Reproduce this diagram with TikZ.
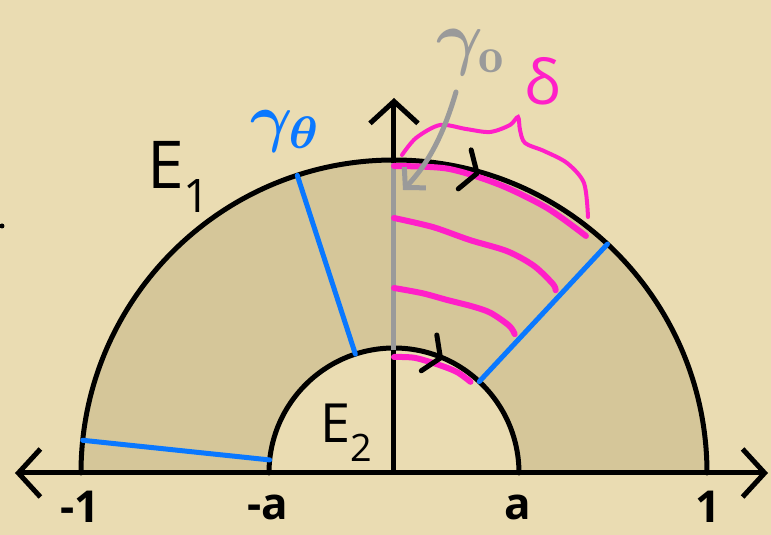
\documentclass[tikz,border=0pt]{standalone}
\usepackage{fontspec}
\usepackage{graphicx}
\setsansfont{Open Sans}
\usetikzlibrary{arrows.meta}
\definecolor{paper}{HTML}{EADCB2}
\definecolor{fillc}{HTML}{D5C699}
\definecolor{myblue}{HTML}{0A78FF}
\definecolor{mymag}{HTML}{FF1FC8}
\definecolor{mygray}{HTML}{9A9A9A}
\tikzset{
  blk/.style={line width=5pt, black, line cap=round, line join=round},
  bl/.style={line width=5pt, myblue, line cap=round},
  mg/.style={line width=6pt, mymag, line cap=round, line join=round},
  gr/.style={line width=5pt, mygray, line cap=round},
  lab/.style={font=\sffamily\bfseries\fontsize{44}{44}\selectfont, inner sep=0pt},
  ax/.style={line width=5pt, black, -{Straight Barb[length=22pt,width=48pt,line width=5pt]}}
}
\begin{document}
\begin{tikzpicture}[x=1pt,y=1pt]
\useasboundingbox (-394,-62) rectangle (377,473);
\fill[paper] (-394,-62) rectangle (377,473);
% annulus
\fill[fillc] (313,0) arc (0:180:313) -- (-125,0) arc (180:0:125) -- cycle;
% axes
\coordinate (O) at (0,0);
\coordinate (L) at (-379,0);
\coordinate (R) at (374,0);
\coordinate (T) at (0,375);
\draw[ax] (O) -- (L);
\draw[ax] (O) -- (R);
\draw[ax] (O) -- (T);
% arcs
\draw[blk] (313,0) arc (0:180:313);
\draw[blk] (125,0) arc (0:180:125);
% gray segment gamma_0
\draw[gr, line cap=butt] (0,123) -- (0,310);
% blue radial lines
\draw[bl] (108:125) -- (108:313);
\draw[bl] (47:125) -- (47:313);
\draw[bl] (174:125) -- (174:313);
% magenta curves
\draw[mg] plot[smooth] coordinates {(90:307) (80:309) (70:307) (60:306) (51:305)};
\draw[mg] plot[smooth] coordinates {(90:255) (81:249) (72:245) (63:249) (56:250) (50:247) (48.5:244)};
\draw[mg] plot[smooth] coordinates {(90:185) (81:182) (73:181) (65:184) (59:187) (52:187) (49:184)};
\draw[mg] plot[smooth] coordinates {(90:116) (80:117) (68:117) (58:119) (50:119)};
% brace delta
\draw[line width=4pt, mymag, line cap=round] plot[smooth] coordinates {(8,318) (22,335) (46,348) (72,344) (96,341) (116,348) (124,356) (126,343) (131,330) (150,322) (173,310) (190,290) (194,256)};
% chevrons on arcs
\begin{scope}[shift={(74.5:311)}, rotate=-15.5]
\draw[blk] (-12,21) -- (0,0) -- (-14,-20);
\end{scope}
\begin{scope}[shift={(68:124)}, rotate=-22]
\draw[blk] (-12,20) -- (0,0) -- (-13,-19);
\end{scope}
% gray arrow
\coordinate (gs) at (62,381);
\coordinate (ge) at (9,283);
\draw[line width=5pt, mygray, line cap=round, -{Straight Barb[length=14pt,width=30pt,line width=5pt]}] (gs) .. controls (50,340) and (35,310) .. (ge);
% labels
\node[lab] (m1) at (-314,-34) {-1};
\node[lab] (ma) at (-126,-34) {-a};
\node[lab] (pa) at (124,-34) {a};
\node[lab] (p1) at (314,-34) {1};
\node[lab, font=\sffamily\fontsize{66}{66}\selectfont] (e1) at (-215,296) {E\textsubscript{1}};
\node[lab, font=\sffamily\fontsize{54}{54}\selectfont] (e2) at (-47,40) {E\textsubscript{2}};
\node[inner sep=0pt, myblue] (gt) at (-108,342) {\scalebox{6.5}{\boldmath$\gamma_\theta$}};
\node[inner sep=0pt, mygray] (g0) at (78,420) {\scalebox{7.2}{\boldmath$\gamma_{\mathrm{o}}$}};
\node[inner sep=0pt, mymag, font=\sffamily\fontsize{62}{62}\selectfont] (dl) at (148,392) {δ};
\fill[black] (-392,247) circle (2.5);
\end{tikzpicture}
\end{document}
